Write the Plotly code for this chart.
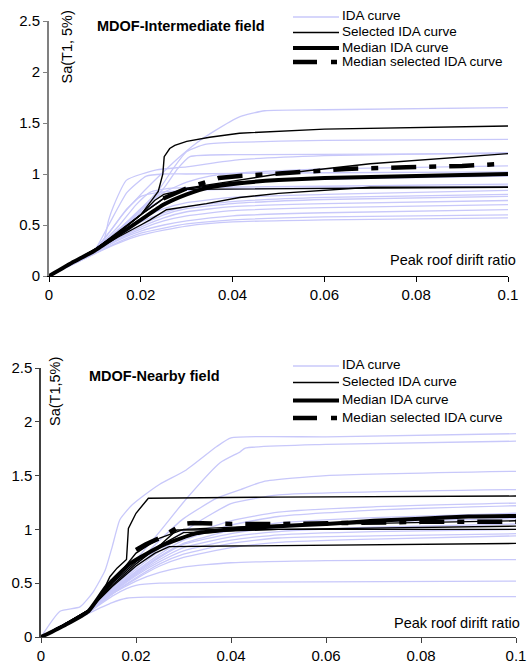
import plotly.graph_objects as go

# ---------------- data: top panel (MDOF-Intermediate field) ----------------
TOP_IDA_X = [
    [0, 0.005, 0.01, 0.013, 0.016, 0.02, 0.024, 0.028, 0.032, 0.036, 0.0415, 0.047, 0.06, 0.1],
    [0, 0.005, 0.01, 0.012, 0.013, 0.014, 0.0169, 0.0234, 0.03, 0.0415, 0.06, 0.1],
    [0, 0.005, 0.01, 0.015, 0.02, 0.024, 0.027, 0.03, 0.034, 0.04, 0.06, 0.1],
    [0, 0.005, 0.01, 0.015, 0.02, 0.025, 0.028, 0.0307, 0.04, 0.1],
    [0, 0.005, 0.01, 0.015, 0.02, 0.025, 0.03, 0.035, 0.045, 0.06, 0.1],
    [0, 0.005, 0.01, 0.013, 0.017, 0.0212, 0.025, 0.03, 0.05, 0.1],
    [0, 0.005, 0.01, 0.015, 0.02, 0.025, 0.03, 0.04, 0.06, 0.1],
    [0, 0.005, 0.01, 0.015, 0.019, 0.022, 0.026, 0.035, 0.06, 0.1],
    [0, 0.005, 0.01, 0.015, 0.02, 0.025, 0.03, 0.04, 0.06, 0.1],
    [0, 0.005, 0.01, 0.015, 0.02, 0.025, 0.03, 0.04, 0.06, 0.1],
    [0, 0.005, 0.01, 0.015, 0.02, 0.025, 0.03, 0.04, 0.06, 0.1],
    [0, 0.005, 0.01, 0.015, 0.02, 0.025, 0.03, 0.04, 0.06, 0.1],
    [0, 0.005, 0.01, 0.015, 0.02, 0.025, 0.03, 0.04, 0.06, 0.1],
    [0, 0.005, 0.01, 0.015, 0.02, 0.025, 0.03, 0.04, 0.06, 0.1],
    [0, 0.005, 0.01, 0.015, 0.02, 0.025, 0.03, 0.04, 0.06, 0.1],
    [0, 0.005, 0.01, 0.015, 0.02, 0.025, 0.03, 0.04, 0.06, 0.1],
    [0, 0.005, 0.01, 0.0135, 0.017, 0.02, 0.024, 0.03, 0.05, 0.1],
]
TOP_IDA_Y = [
    [0, 0.13, 0.26, 0.42, 0.6, 0.8, 0.98, 1.15, 1.3, 1.42, 1.56, 1.62, 1.63, 1.65],
    [0, 0.13, 0.26, 0.36, 0.55, 0.68, 0.94, 1.04, 1.07, 1.14, 1.18, 1.21],
    [0, 0.13, 0.26, 0.45, 0.66, 0.85, 1.05, 1.22, 1.29, 1.31, 1.33, 1.34],
    [0, 0.12, 0.25, 0.44, 0.64, 0.86, 1.05, 1.17, 1.19, 1.2],
    [0, 0.12, 0.25, 0.44, 0.66, 0.82, 0.92, 0.98, 1.02, 1.05, 1.08],
    [0, 0.13, 0.26, 0.5, 0.82, 0.98, 1.0, 1.0, 1.01, 1.02],
    [0, 0.12, 0.25, 0.43, 0.62, 0.76, 0.85, 0.91, 0.95, 0.98],
    [0, 0.13, 0.26, 0.48, 0.7, 0.82, 0.86, 0.87, 0.88, 0.9],
    [0, 0.12, 0.25, 0.41, 0.56, 0.66, 0.72, 0.77, 0.8, 0.84],
    [0, 0.12, 0.24, 0.4, 0.53, 0.62, 0.68, 0.73, 0.77, 0.8],
    [0, 0.12, 0.24, 0.39, 0.5, 0.6, 0.66, 0.71, 0.75, 0.78],
    [0, 0.12, 0.24, 0.37, 0.48, 0.57, 0.63, 0.68, 0.71, 0.74],
    [0, 0.11, 0.23, 0.36, 0.46, 0.54, 0.59, 0.64, 0.67, 0.7],
    [0, 0.11, 0.23, 0.35, 0.44, 0.5, 0.54, 0.59, 0.62, 0.65],
    [0, 0.11, 0.22, 0.33, 0.42, 0.47, 0.51, 0.55, 0.58, 0.6],
    [0, 0.11, 0.22, 0.32, 0.4, 0.45, 0.49, 0.53, 0.55, 0.57],
    [0, 0.13, 0.26, 0.45, 0.66, 0.78, 0.82, 0.84, 0.86, 0.88],
]
TOP_SEL_X = [
    [0, 0.005, 0.01, 0.015, 0.02, 0.023, 0.0238, 0.0248, 0.0251, 0.0263, 0.0274, 0.03, 0.035, 0.0415, 0.06, 0.1],
    [0, 0.005, 0.01, 0.015, 0.02, 0.025, 0.03, 0.0393, 0.05, 0.07, 0.1],
    [0, 0.005, 0.01, 0.015, 0.02, 0.025, 0.03, 0.04, 0.06, 0.1],
    [0, 0.005, 0.01, 0.015, 0.02, 0.023, 0.025, 0.03, 0.1],
    [0, 0.005, 0.01, 0.015, 0.02, 0.022, 0.0256, 0.0343, 0.0415, 0.05, 0.07, 0.1],
]
TOP_SEL_Y = [
    [0, 0.13, 0.26, 0.42, 0.6, 0.78, 0.83, 1.0, 1.17, 1.25, 1.28, 1.32, 1.36, 1.4, 1.44, 1.47],
    [0, 0.13, 0.26, 0.43, 0.6, 0.76, 0.86, 0.925, 1.0, 1.1, 1.2],
    [0, 0.13, 0.26, 0.42, 0.6, 0.76, 0.85, 0.92, 0.96, 0.99],
    [0, 0.13, 0.26, 0.42, 0.6, 0.74, 0.8, 0.85, 0.87],
    [0, 0.12, 0.25, 0.38, 0.5, 0.55, 0.65, 0.71, 0.77, 0.81, 0.87, 0.87],
]
TOP_MED_X = [0, 0.005, 0.01, 0.015, 0.02, 0.025, 0.03, 0.035, 0.0415, 0.05, 0.06, 0.08, 0.1]
TOP_MED_Y = [0, 0.13, 0.25, 0.4, 0.55, 0.7, 0.8, 0.87, 0.91, 0.94, 0.96, 0.98, 1.0]
TOP_MEDSEL_X = [0.0249, 0.03, 0.037, 0.0415, 0.0553, 0.0647, 0.0778, 0.09, 0.098]
TOP_MEDSEL_Y = [0.76, 0.86, 0.96, 0.98, 1.02, 1.05, 1.066, 1.078, 1.098]

# ---------------- data: bottom panel (MDOF-Nearby field) ----------------
X11 = [0, 0.005, 0.01, 0.015, 0.02, 0.025, 0.03, 0.04, 0.05, 0.07, 0.1]
BOT_IDA_X = [
    [0, 0.004, 0.0082, 0.011, 0.0135, 0.015, 0.0166, 0.019, 0.0215, 0.025, 0.0305, 0.037, 0.04, 0.06, 0.1],
    [0, 0.005, 0.01, 0.015, 0.02, 0.025, 0.0307, 0.0377, 0.0419, 0.043, 0.06, 0.1],
    [0, 0.005, 0.01, 0.015, 0.02, 0.025, 0.03, 0.037, 0.042, 0.0468, 0.06, 0.1],
    [0, 0.005, 0.01, 0.015, 0.02, 0.025, 0.03, 0.035, 0.04, 0.05, 0.1],
    X11, X11, X11, X11, X11, X11, X11, X11,
    [0, 0.005, 0.01, 0.015, 0.02, 0.025, 0.03, 0.04, 0.06, 0.1],
    [0, 0.005, 0.01, 0.015, 0.018, 0.02, 0.025, 0.04, 0.1],
    [0, 0.005, 0.01, 0.015, 0.018, 0.022, 0.04, 0.1],
]
BOT_IDA_Y = [
    [0, 0.24, 0.28, 0.42, 0.62, 0.84, 1.09, 1.22, 1.31, 1.42, 1.55, 1.77, 1.85, 1.86, 1.89],
    [0, 0.12, 0.25, 0.48, 0.72, 0.98, 1.29, 1.62, 1.72, 1.755, 1.79, 1.82],
    [0, 0.12, 0.24, 0.46, 0.68, 0.9, 1.1, 1.29, 1.37, 1.445, 1.5, 1.54],
    [0, 0.12, 0.24, 0.45, 0.65, 0.83, 0.98, 1.12, 1.24, 1.32, 1.37],
    [0, 0.12, 0.24, 0.44, 0.63, 0.8, 0.93, 1.08, 1.16, 1.21, 1.245],
    [0, 0.12, 0.24, 0.43, 0.61, 0.77, 0.9, 1.04, 1.12, 1.18, 1.22],
    [0, 0.12, 0.24, 0.43, 0.6, 0.75, 0.87, 0.99, 1.06, 1.11, 1.15],
    [0, 0.12, 0.24, 0.42, 0.59, 0.74, 0.86, 0.96, 1.02, 1.07, 1.1],
    [0, 0.12, 0.24, 0.42, 0.58, 0.72, 0.83, 0.93, 0.98, 1.02, 1.05],
    [0, 0.12, 0.23, 0.41, 0.57, 0.7, 0.8, 0.9, 0.95, 0.98, 1.0],
    [0, 0.12, 0.23, 0.4, 0.55, 0.68, 0.77, 0.87, 0.92, 0.94, 0.96],
    [0, 0.11, 0.23, 0.4, 0.54, 0.66, 0.74, 0.83, 0.88, 0.91, 0.94],
    [0, 0.11, 0.23, 0.4, 0.52, 0.6, 0.65, 0.69, 0.71, 0.72],
    [0, 0.11, 0.23, 0.38, 0.45, 0.48, 0.5, 0.51, 0.52],
    [0, 0.11, 0.22, 0.32, 0.36, 0.37, 0.372, 0.375],
]
BOT_SEL_X = [
    [0, 0.005, 0.01, 0.013, 0.0145, 0.016, 0.018, 0.0184, 0.02, 0.0226, 0.05, 0.1],
    [0, 0.005, 0.01, 0.015, 0.02, 0.025, 0.0286, 0.05, 0.1],
    [0, 0.005, 0.01, 0.015, 0.02, 0.025, 0.03, 0.05, 0.1],
    [0, 0.005, 0.01, 0.015, 0.02, 0.024, 0.027, 0.05, 0.1],
    [0, 0.005, 0.01, 0.014, 0.017, 0.02, 0.025, 0.03, 0.05, 0.1],
]
BOT_SEL_Y = [
    [0, 0.11, 0.24, 0.42, 0.56, 0.64, 0.72, 1.01, 1.15, 1.29, 1.3, 1.31],
    [0, 0.12, 0.25, 0.5, 0.7, 0.85, 0.995, 1.0, 1.0],
    [0, 0.12, 0.25, 0.48, 0.68, 0.85, 0.97, 1.0, 1.03],
    [0, 0.12, 0.25, 0.47, 0.66, 0.78, 0.84, 0.85, 0.87],
    [0, 0.12, 0.24, 0.45, 0.62, 0.78, 0.92, 1.0, 1.04, 1.08],
]
BOT_MED_X = [0, 0.005, 0.01, 0.0138, 0.019, 0.0258, 0.0328, 0.0398, 0.05, 0.06, 0.07, 0.08, 0.09, 0.1]
BOT_MED_Y = [0, 0.11, 0.24, 0.47, 0.69, 0.856, 0.965, 1.0, 1.03, 1.05, 1.08, 1.1, 1.12, 1.125]
BOT_MEDSEL_X = [0.02, 0.022, 0.025, 0.028, 0.03, 0.032, 0.04, 0.05, 0.06, 0.07, 0.08, 0.09, 0.1]
BOT_MEDSEL_Y = [0.81, 0.86, 0.92, 1.0, 1.05, 1.06, 1.05, 1.05, 1.06, 1.07, 1.07, 1.07, 1.07]

X_TICKS = [0, 0.02, 0.04, 0.06, 0.08, 0.1]
X_TICKTEXT = ["0", "0.02", "0.04", "0.06", "0.08", "0.1"]
Y_TICKS = [0, 0.5, 1, 1.5, 2, 2.5]
Y_TICKTEXT = ["0", "0.5", "1", "1.5", "2", "2.5"]
LEGEND_NAMES = ["IDA curve", "Selected IDA curve", "Median IDA curve", "Median selected IDA curve"]

FONT = "Liberation Sans, Arial, sans-serif"
BLUE = "#c8c8fa"
W, H = 528, 668
MEDSEL_DASH = "25px,13px,7px,13px"

fig = go.Figure()


def add_panel(ida_x, ida_y, sel_x, sel_y, med_x, med_y, ms_x, ms_y, xa, ya):
    for xs, ys in zip(ida_x, ida_y):
        fig.add_trace(go.Scatter(x=xs, y=ys, mode="lines", xaxis=xa, yaxis=ya,
                                 line=dict(color=BLUE, width=1.3, shape="spline", smoothing=0.5),
                                 name=LEGEND_NAMES[0], showlegend=False, hoverinfo="skip"))
    for xs, ys in zip(sel_x, sel_y):
        fig.add_trace(go.Scatter(x=xs, y=ys, mode="lines", xaxis=xa, yaxis=ya,
                                 line=dict(color="black", width=1.4),
                                 name=LEGEND_NAMES[1], showlegend=False, hoverinfo="skip"))
    fig.add_trace(go.Scatter(x=med_x, y=med_y, mode="lines", xaxis=xa, yaxis=ya,
                             line=dict(color="black", width=4, shape="spline", smoothing=0.5),
                             name=LEGEND_NAMES[2], showlegend=False, hoverinfo="skip"))
    fig.add_trace(go.Scatter(x=ms_x, y=ms_y, mode="lines", xaxis=xa, yaxis=ya,
                             line=dict(color="black", width=4.5, dash=MEDSEL_DASH),
                             name=LEGEND_NAMES[3], showlegend=False, hoverinfo="skip"))


add_panel(TOP_IDA_X, TOP_IDA_Y, TOP_SEL_X, TOP_SEL_Y, TOP_MED_X, TOP_MED_Y,
          TOP_MEDSEL_X, TOP_MEDSEL_Y, "x", "y")
add_panel(BOT_IDA_X, BOT_IDA_Y, BOT_SEL_X, BOT_SEL_Y, BOT_MED_X, BOT_MED_Y,
          BOT_MEDSEL_X, BOT_MEDSEL_Y, "x2", "y2")


def px_x(p):
    return p / W


def px_y(p):
    return 1 - p / H


tickfont = dict(family=FONT, size=15, color="black")
common_x = dict(range=[0, 0.1], tickvals=X_TICKS, ticktext=X_TICKTEXT, showgrid=False,
                zeroline=False, showline=True, ticks="outside", ticklen=5, tickfont=tickfont,
                automargin=False, fixedrange=True)
common_y = dict(range=[0, 2.5], tickvals=Y_TICKS, ticktext=Y_TICKTEXT, showgrid=False,
                zeroline=False, showline=True, ticks="outside", ticklen=4, tickfont=tickfont,
                automargin=False, fixedrange=True)

# legend keys (drawn as decoration in paper space)
LEG_STYLES = [dict(color=BLUE, width=1.3), dict(color="black", width=1.3),
              dict(color="black", width=4), dict(color="black", width=4.5, dash="24px,14px,6px,20px")]
legend_rows = [[17, 32.5, 48, 62], [366, 382.5, 400.5, 418]]
shapes = []
annotations = []
for rows in legend_rows:
    for name, style, yc in zip(LEGEND_NAMES, LEG_STYLES, rows):
        shapes.append(dict(type="line", xref="paper", yref="paper", x0=px_x(293), x1=px_x(339),
                           y0=px_y(yc), y1=px_y(yc), line=style))
        annotations.append(dict(text=name, x=px_x(341), y=px_y(yc - 1), xref="paper", yref="paper",
                                xanchor="left", yanchor="middle", showarrow=False, borderpad=0,
                                font=dict(family=FONT, size=13.5, color="black")))

annotations += [
    dict(text="<b>MDOF-Intermediate field</b>", x=px_x(95), y=px_y(26), xref="paper",
         yref="paper", xanchor="left", yanchor="middle", showarrow=False,
         font=dict(family=FONT, size=14.5, color="black")),
    dict(text="<b>MDOF-Nearby field</b>", x=px_x(87), y=px_y(376), xref="paper",
         yref="paper", xanchor="left", yanchor="middle", showarrow=False,
         font=dict(family=FONT, size=14.5, color="black")),
    dict(text="Sa(T1, 5%)", x=px_x(66), y=px_y(47.5), xref="paper", yref="paper",
         xanchor="center", yanchor="middle", textangle=-90, showarrow=False,
         font=dict(family=FONT, size=14.5, color="black")),
    dict(text="Sa(T1,5%)", x=px_x(55), y=px_y(392), xref="paper", yref="paper",
         xanchor="center", yanchor="middle", textangle=-90, showarrow=False,
         font=dict(family=FONT, size=14.5, color="black")),
    dict(text="Peak roof dirift ratio", x=px_x(518), y=px_y(260), xref="paper",
         yref="paper", xanchor="right", yanchor="middle", showarrow=False,
         font=dict(family=FONT, size=14.5, color="black")),
    dict(text="Peak roof dirift ratio", x=px_x(522), y=px_y(623), xref="paper",
         yref="paper", xanchor="right", yanchor="middle", showarrow=False,
         font=dict(family=FONT, size=14.5, color="black")),
]

fig.update_layout(
    width=W, height=H,
    margin=dict(l=0, r=0, t=0, b=0, pad=0),
    paper_bgcolor="white", plot_bgcolor="white",
    font=dict(family=FONT, color="black"),
    showlegend=False,
    xaxis=dict(common_x, domain=[px_x(49), px_x(508)], anchor="y",
               linecolor="black", tickcolor="black", linewidth=1.3),
    yaxis=dict(common_y, domain=[px_y(276), px_y(21)], anchor="x",
               linecolor="#808080", tickcolor="#808080", linewidth=2),
    xaxis2=dict(common_x, domain=[px_x(41), px_x(516)], anchor="y2",
                linecolor="#404040", tickcolor="#404040", linewidth=1.3),
    yaxis2=dict(common_y, domain=[px_y(637), px_y(368)], anchor="x2",
                linecolor="#404040", tickcolor="#404040", linewidth=1.5),
    shapes=shapes,
    annotations=annotations,
)

# remove the browser's default 8px body margin so the figure fills the window exactly
fig.write_html("out.html", config={"displayModeBar": False},
               post_script="document.body.style.margin='0';document.body.style.overflow='hidden';")
